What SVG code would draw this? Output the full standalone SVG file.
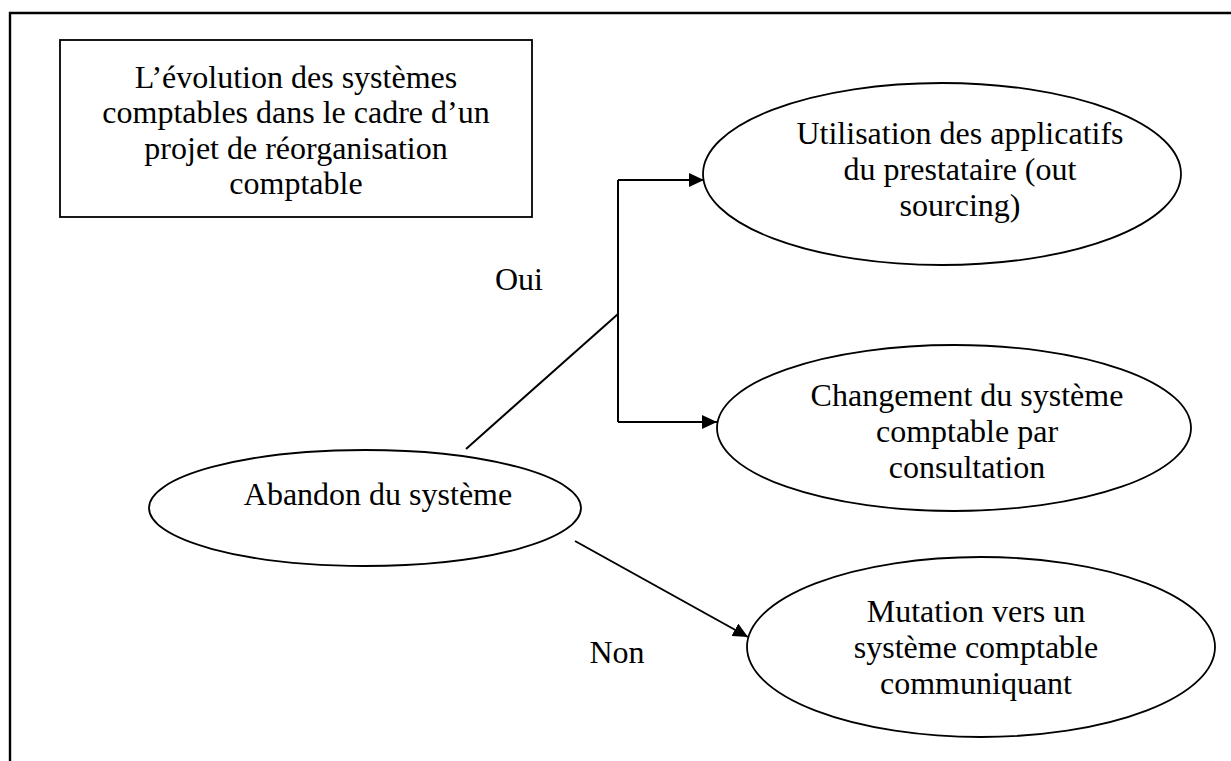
<svg xmlns="http://www.w3.org/2000/svg" width="1231" height="761" viewBox="0 0 1231 761">
  <style>
    .frame { fill: none; stroke: #000; stroke-width: 2.4; }
    .shape { fill: #fff; stroke: #000; stroke-width: 1.8; }
    .link { fill: none; stroke: #000; stroke-width: 2; }
    .lbl { font-family: "Liberation Serif", "Times New Roman", serif; font-size: 32px; fill: #000; text-anchor: middle; }
  </style>
  <defs>
    <marker id="arrow" markerUnits="userSpaceOnUse" markerWidth="16" markerHeight="14" refX="15" refY="7" orient="auto">
      <path d="M0,0 L15,7 L0,14 Z" fill="#000"/>
    </marker>
  </defs>
  <rect width="1231" height="761" fill="#fff"/>

  <!-- page frame (top and left edges) -->
  <path class="frame" d="M10,761 L10,13 L1231,13"/>

  <!-- connectors -->
  <g id="connectors">
    <path class="link" d="M466,449 L618,314"/>
    <path class="link" d="M618,180 L618,422"/>
    <path class="link" d="M618,180 L704,180" marker-end="url(#arrow)"/>
    <path class="link" d="M618,422 L717,422" marker-end="url(#arrow)"/>
    <path class="link" d="M575,541 L748,637" marker-end="url(#arrow)"/>
    <text class="lbl" x="519" y="290">Oui</text>
    <text class="lbl" x="617" y="663">Non</text>
  </g>

  <g id="title">
    <rect class="shape" x="60" y="40" width="472" height="177"/>
    <text class="lbl" x="296" y="88">L’évolution des systèmes</text>
    <text class="lbl" x="296" y="123">comptables dans le cadre d’un</text>
    <text class="lbl" x="296" y="159">projet de réorganisation</text>
    <text class="lbl" x="296" y="194">comptable</text>
  </g>

  <g id="outsourcing">
    <ellipse class="shape" cx="942" cy="174" rx="239" ry="91"/>
    <text class="lbl" x="960" y="144">Utilisation des applicatifs</text>
    <text class="lbl" x="960" y="180">du prestataire (out</text>
    <text class="lbl" x="960" y="216">sourcing)</text>
  </g>

  <g id="changement">
    <ellipse class="shape" cx="954" cy="428" rx="237" ry="83"/>
    <text class="lbl" x="967" y="406">Changement du système</text>
    <text class="lbl" x="967" y="442">comptable par</text>
    <text class="lbl" x="967" y="478">consultation</text>
  </g>

  <g id="abandon">
    <ellipse class="shape" cx="365" cy="508" rx="216" ry="58"/>
    <text class="lbl" x="378" y="505">Abandon du système</text>
  </g>

  <g id="mutation">
    <ellipse class="shape" cx="981" cy="647" rx="234" ry="90"/>
    <text class="lbl" x="976" y="622">Mutation vers un</text>
    <text class="lbl" x="976" y="658">système comptable</text>
    <text class="lbl" x="976" y="694">communiquant</text>
  </g>
</svg>
